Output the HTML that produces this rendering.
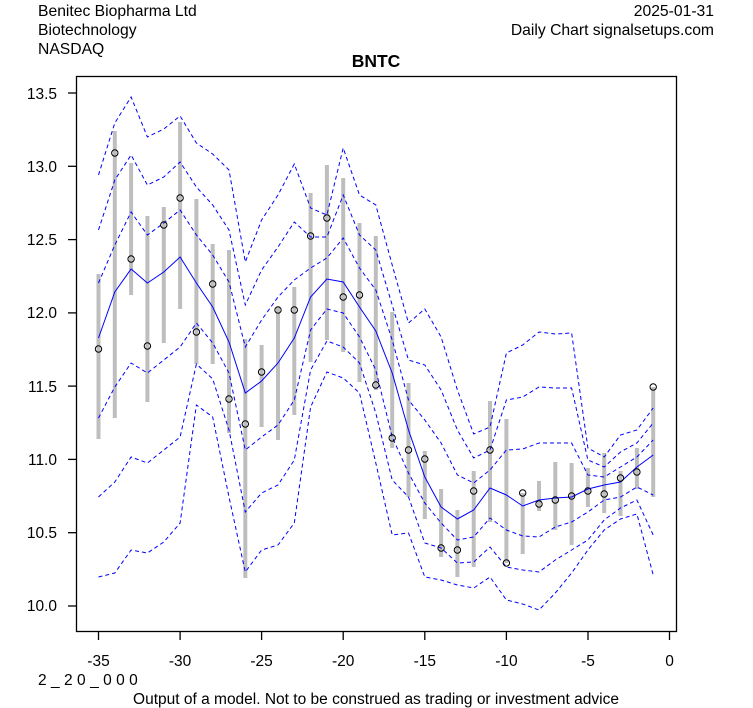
<!DOCTYPE html>
<html><head><meta charset="utf-8"><style>
body{margin:0;background:#fff;}
svg{display:block;font-family:"Liberation Sans",Arial,sans-serif;}
</style></head><body>
<svg id="s" width="753" height="708" viewBox="0 0 753 708" xmlns="http://www.w3.org/2000/svg">
<rect width="753" height="708" fill="#fff"/>
<text x="38" y="16" font-size="15.7">Benitec Biopharma Ltd</text>
<text x="38" y="35" font-size="15.7">Biotechnology</text>
<text x="38" y="54" font-size="15.7">NASDAQ</text>
<text x="714" y="16" font-size="15.7" text-anchor="end">2025-01-31</text>
<text x="714" y="35" font-size="15.7" text-anchor="end">Daily Chart signalsetups.com</text>
<text x="376" y="67" font-size="17.5" font-weight="bold" text-anchor="middle">BNTC</text>
<g id="data"></g>
<rect x="76.5" y="76.5" width="600" height="555" fill="none" stroke="#000" stroke-width="1.3"/>
<g stroke="#000" stroke-width="1.3">
<line x1="68" x2="76.5" y1="93" y2="93"/><line x1="68" x2="76.5" y1="166.3" y2="166.3"/><line x1="68" x2="76.5" y1="239.6" y2="239.6"/><line x1="68" x2="76.5" y1="312.9" y2="312.9"/><line x1="68" x2="76.5" y1="386.1" y2="386.1"/><line x1="68" x2="76.5" y1="459.4" y2="459.4"/><line x1="68" x2="76.5" y1="532.7" y2="532.7"/><line x1="68" x2="76.5" y1="606" y2="606"/>
<line y1="631.5" y2="640" x1="98.5" x2="98.5"/><line y1="631.5" y2="640" x1="180.1" x2="180.1"/><line y1="631.5" y2="640" x1="261.6" x2="261.6"/><line y1="631.5" y2="640" x1="343.2" x2="343.2"/><line y1="631.5" y2="640" x1="424.8" x2="424.8"/><line y1="631.5" y2="640" x1="506.4" x2="506.4"/><line y1="631.5" y2="640" x1="588" x2="588"/><line y1="631.5" y2="640" x1="669.5" x2="669.5"/>
</g>
<g font-size="15.5" text-anchor="end">
<text x="57" y="99">13.5</text><text x="57" y="172">13.0</text><text x="57" y="245">12.5</text><text x="57" y="318">12.0</text><text x="57" y="392">11.5</text><text x="57" y="465">11.0</text><text x="57" y="538">10.5</text><text x="57" y="611">10.0</text>
</g>
<g font-size="15.5" text-anchor="middle">
<text x="98.5" y="666">-35</text><text x="180.1" y="666">-30</text><text x="261.6" y="666">-25</text><text x="343.2" y="666">-20</text><text x="424.8" y="666">-15</text><text x="506.4" y="666">-10</text><text x="588" y="666">-5</text><text x="669.5" y="666">0</text>
</g>
<text x="38" y="685" font-size="15.5" letter-spacing="4.4">2_20_000</text>
<text x="376" y="704" font-size="15.5" text-anchor="middle">Output of a model. Not to be construed as trading or investment advice</text>
</svg>
<script>
var X=function(k){return 98.5+(k+35)*16.314;};
var c=[338,292,269,283,272,257,283,307,342,393,381,363,338,297,279,282,307,331,373,430,477,507,519,510,488,495,506,500,498,497,489,485,482,467,455];
var bp1=[283,245,212,235,223,210,235,255,282,347,320,297,280,268,258,238,268,290,340,400,420,443,475,483,470,450,449,443,443,443,475,477,467,457,440];
var bp2=[230,180,155,185,177,162,187,205,230,305,270,247,222,237,237,195,235,250,305,360,365,390,430,458,450,400,397,387,388,388,460,467,452,443,423];
var bp3=[175,123,97,137,129,116,143,154,170,262,220,195,164,208,215,148,195,205,265,323,309,337,390,434,427,353,345,332,334,333,448,457,435,430,408];
var bm1=[418,387,363,373,360,347,323,343,373,450,437,425,400,330,309,313,337,370,437,473,503,523,540,537,518,530,536,537,527,522,512,500,497,487,495];
var bm2=[497,482,457,463,450,437,364,379,430,512,493,485,460,370,341,347,363,413,480,497,543,548,563,562,547,567,570,572,560,550,540,520,508,500,535];
var bm3=[577,573,550,553,542,523,405,417,497,572,550,545,523,407,372,378,393,463,535,533,577,580,585,588,577,600,604,610,593,573,550,530,519,514,575];
var bars=[[274,439,349],[131,418,153],[163,295,259],[216,402,346],[207,343,225],[122,309,198],[199,364,332],[244,364,284],[250,433,399],[339,578,424],[345,427,372],[307,440,310],[287,415,310],[193,362,236],[165,340,218],[178,352,297],[223,382,295],[236,390,385],[312,448,438],[383,497,450],[451,519,459],[489,557,548],[510,577,550],[471,567,491],[401,522,450],[419,563,563],[493,554,493],[481,511,504],[462,530,500],[463,545,496],[468,507,491],[453,513,494],[471,516,478],[448,489,472],[387,497,387]];
var h='';
bars.forEach(function(b,i){var x=X(i-35).toFixed(1);h+='<line x1="'+x+'" x2="'+x+'" y1="'+b[0]+'" y2="'+b[1]+'" stroke="#bebebe" stroke-width="4"/>';});
function pl(a,d){var p=a.map(function(y,i){return X(i-35).toFixed(1)+','+y;}).join(' ');return '<polyline points="'+p+'" fill="none" stroke="#0000ff" stroke-width="1"'+(d?' stroke-dasharray="4,3"':'')+'/>';}
[bp1,bp2,bp3,bm1,bm2,bm3].forEach(function(a){h+=pl(a,true);});
h+=pl(c,false);
bars.forEach(function(b,i){h+='<circle cx="'+X(i-35).toFixed(1)+'" cy="'+b[2]+'" r="3.2" fill="none" stroke="#000" stroke-width="1"/>';});
document.getElementById('data').innerHTML=h;
</script>
</body></html>
